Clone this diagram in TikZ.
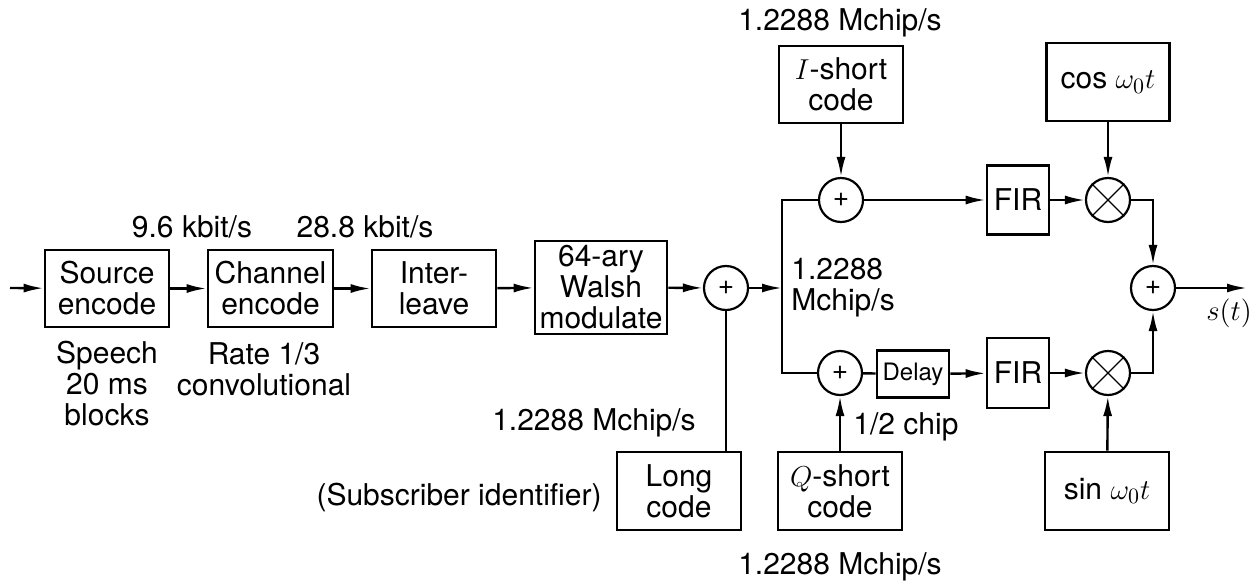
\documentclass[tikz,border=0pt]{standalone}
\usepackage[no-math]{fontspec}
\setmainfont{TeX Gyre Heros}
\usetikzlibrary{arrows.meta}
\begin{document}
\begin{tikzpicture}[x=0.5pt,y=-0.5pt,
  font=\fontsize{15}{15.5}\selectfont,
  blk/.style={draw, line width=1.4pt, inner sep=0pt, align=center},
  sumc/.style={draw, circle, line width=1.1pt, minimum size=22pt, inner sep=0pt, font=\fontsize{14}{14}\selectfont},
  con/.style={line width=1.2pt},
  arr/.style={con, -{Latex[length=10pt,width=4.5pt]}},
  lbl/.style={inner sep=0pt, align=center}]
\useasboundingbox (0,0) rectangle (1257,584);

% blocks
\node[blk, minimum width=62pt, minimum height=38.5pt] (src) at (107,288.5) {Source\\encode};
\node[blk, minimum width=62.5pt, minimum height=38.5pt] (chn) at (270.5,288.5) {Channel\\encode};
\node[blk, minimum width=62pt, minimum height=38.5pt] (intl) at (434,288.5) {Inter-\\leave};
\node[blk, minimum width=66pt, minimum height=46.5pt] (walsh) at (601,287.5) {64-ary\\Walsh\\modulate};
\node[blk, minimum width=62pt, minimum height=39pt] (long) at (679,491) {Long\\code};
\node[blk, minimum width=62pt, minimum height=38.5pt] (ish) at (841,84.5) {$I$-short\\code};
\node[blk, minimum width=62pt, minimum height=39pt] (qsh) at (840,491) {$Q$-short\\code};
\node[blk, minimum width=36pt, minimum height=23.5pt, font=\fontsize{12}{12}\selectfont] (delay) at (913,374) {Delay};
\node[blk, minimum width=31pt, minimum height=34.5pt] (firI) at (1018,200) {FIR};
\node[blk, minimum width=31pt, minimum height=35pt] (firQ) at (1018,373) {FIR};
\node[blk, minimum width=61.5pt, minimum height=39pt] (cosb) at (1108,82) {cos $\omega_0t$};
\node[blk, minimum width=62pt, minimum height=39pt] (sinb) at (1107,491) {sin $\omega_0t$};

% circles
\node[sumc] (add1) at (726,288) {+};
\node[sumc] (addI) at (841,200) {+};
\node[sumc] (addQ) at (840,373) {+};
\node[sumc] (addF) at (1153,288) {+};
\node[sumc] (mulI) at (1108,200) {};
\node[sumc] (mulQ) at (1108,373) {};
\draw[line width=0.6pt] (mulI.45) -- (mulI.225) (mulI.135) -- (mulI.315);
\draw[line width=0.6pt] (mulQ.45) -- (mulQ.225) (mulQ.135) -- (mulQ.315);

% coordinates
\coordinate (in) at (10,288);
\coordinate (out) at (1247,288);
\coordinate (jT) at (782,200);
\coordinate (jM) at (782,288);
\coordinate (jB) at (782,373);
\coordinate (lt) at (726,452);

% connectors
\draw[arr] (in) -- (src);
\draw[arr] (src) -- (chn);
\draw[arr] (chn) -- (intl);
\draw[arr] (intl) -- (walsh);
\draw[arr] (walsh) -- (add1);
\draw[arr] (add1) -- (jM);
\draw[con] (lt) -- (add1);
\draw[con] (addI.west) -- (jT) -- (jB) -- (addQ.west);
\draw[arr] (ish) -- (addI);
\draw[arr] (qsh) -- (addQ);
\draw[con] (addQ) -- (delay);
\draw[arr] (delay) -- (firQ);
\draw[arr] (addI) -- (firI);
\draw[arr] (firI) -- (mulI);
\draw[arr] (firQ) -- (mulQ);
\draw[arr] (cosb) -- (mulI);
\draw[arr] (sinb) -- (mulQ);
\draw[arr] (mulI.east) -| (addF.north);
\draw[arr] (mulQ.east) -| (addF.south);
\draw[arr] (addF) -- (out);

% labels
\node[lbl] (r96) at (192,227) {9.6 kbit/s};
\node[lbl] (r288) at (365,227) {28.8 kbit/s};
\node[lbl] (speech) at (107,384) {Speech\\20 ms\\blocks};
\node[lbl] (rate) at (264,369) {Rate 1/3\\convolutional};
\node[lbl] (chipL) at (594,423) {1.2288 Mchip/s};
\node[lbl, anchor=east] (subs) at (602,497) {(Subscriber identifier)};
\node[lbl] (chipT) at (840,23) {1.2288 Mchip/s};
\node[lbl, anchor=west, align=left] (chipM) at (791,288) {1.2288\\Mchip/s};
\node[lbl, anchor=west] (half) at (853,427) {1/2 chip};
\node[lbl] (chipB) at (840,567) {1.2288 Mchip/s};
\node[lbl] (st) at (1229,313) {$s(t)$};
\end{tikzpicture}
\end{document}
